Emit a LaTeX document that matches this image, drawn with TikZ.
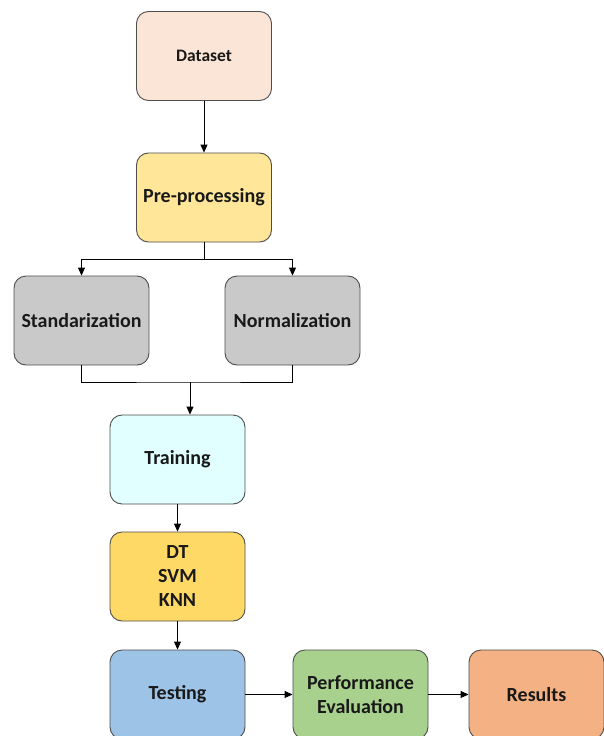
\documentclass[tikz,border=0pt]{standalone}
\usepackage{fontspec}
\setmainfont{Carlito}
\usetikzlibrary{arrows.meta,calc}
\definecolor{cDataset}{HTML}{FBE5D6}
\definecolor{cPre}{HTML}{FFE699}
\definecolor{cGrey}{HTML}{C9C9C9}
\definecolor{cTrain}{HTML}{E1FFFF}
\definecolor{cModel}{HTML}{FFD966}
\definecolor{cTest}{HTML}{9DC3E6}
\definecolor{cPerf}{HTML}{A9D18E}
\definecolor{cRes}{HTML}{F4B183}
\definecolor{cEdge}{HTML}{4D4D4D}
\begin{document}
\begin{tikzpicture}[x=1pt,y=-1pt,
  box/.style={draw=cEdge, line width=0.9pt, rounded corners=12pt,
    minimum width=135pt, minimum height=89pt, align=center,
    font=\fontsize{20}{24}\selectfont\bfseries, text=black!90, inner sep=2pt},
  conn/.style={line width=0.9pt, draw=black},
  arr/.style={conn, -{Triangle[length=8pt,width=7pt]}}]
\useasboundingbox (0,0) rectangle (604,736);
\node[box, fill=cDataset, font=\fontsize{17.5}{21}\selectfont\bfseries] (ds) at (204,56) {Dataset};
\node[box, fill=cPre] (pp) at (204,197.5) {Pre-processing};
\node[box, fill=cGrey] (st) at (81.5,320.5) {Standarization};
\node[box, fill=cGrey] (nm) at (292.5,320.5) {Normalization};
\node[box, fill=cTrain] (tr) at (177.5,459.5) {Training};
\node[box, fill=cModel] (ml) at (177.5,576.5) {DT\\SVM\\KNN};
\node[box, fill=cTest] (te) at (177.5,694.5) {Testing};
\node[box, fill=cPerf] (pe) at (360.5,694.5) {Performance\\Evaluation};
\node[box, fill=cRes] (rs) at (536.5,694.5) {Results};
\coordinate (split) at (204,259);
\coordinate (merge) at (190,382);
\draw[arr] (ds) -- (pp);
\draw[conn] (pp.south) -- (split);
\draw[arr] (split) -| (st.north);
\draw[arr] (split) -| (nm.north);
\draw[conn] (st.south) |- (merge) -| (nm.south);
\draw[arr] (merge) -- (merge |- tr.north);
\draw[arr] (tr) -- (ml);
\draw[arr] (ml) -- (te);
\draw[arr] (te) -- (pe);
\draw[arr] (pe) -- (rs);
\end{tikzpicture}
\end{document}
